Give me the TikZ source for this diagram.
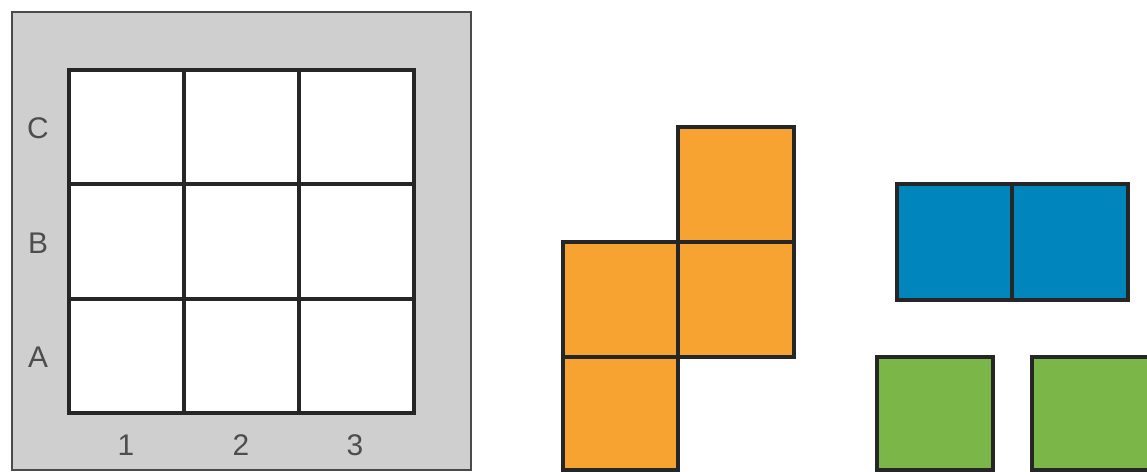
\documentclass[tikz,border=0pt]{standalone}
\usepackage{xcolor}
\usepackage{tikz}
\usepackage{fontspec}
\setmainfont{Liberation Sans}
\definecolor{boardgray}{HTML}{CFCFCF}
\definecolor{framegray}{HTML}{4A4A4A}
\definecolor{inkdark}{HTML}{262626}
\definecolor{labelgray}{HTML}{4D4D4D}
\definecolor{tileorange}{HTML}{F7A331}
\definecolor{tileblue}{HTML}{0085BD}
\definecolor{tilegreen}{HTML}{7AB648}

\tikzset{
  gridline/.style={inkdark,line width=2.2pt,line cap=rect},
  tile/.style={draw=inkdark,line width=2.2pt,line join=miter},
  boardlabel/.style={text=labelgray,font=\fontsize{17}{20}\selectfont,inner sep=0pt}
}

\begin{document}
\begin{tikzpicture}[x=0.02cm,y=-0.02cm]
  \useasboundingbox (0,0) rectangle (1147,472);
  % board
  \filldraw[fill=boardgray,draw=framegray,line width=0.8pt] (12,12) rectangle (471,470);
  \fill[white] (69,70) rectangle (414,413);
  \foreach \i in {0,...,3} {
    \draw[gridline] (69+\i*115,70) -- (69+\i*115,413);
    \draw[gridline] (69,70+\i*114.33) -- (414,70+\i*114.33);
  }
  \node[boardlabel] (rowC) at (38,128) {C};
  \node[boardlabel] (rowB) at (38,243) {B};
  \node[boardlabel] (rowA) at (38,357) {A};
  \node[boardlabel] (col1) at (126,445) {1};
  \node[boardlabel] (col2) at (241,445) {2};
  \node[boardlabel] (col3) at (355,445) {3};
  % orange piece
  \filldraw[tile,fill=tileorange] (678,127) rectangle (794,242);
  \filldraw[tile,fill=tileorange] (563,242) rectangle (678,357);
  \filldraw[tile,fill=tileorange] (678,242) rectangle (794,357);
  \filldraw[tile,fill=tileorange] (563,357) rectangle (678,470);
  % blue piece
  \filldraw[tile,fill=tileblue] (897,184) rectangle (1012,300);
  \filldraw[tile,fill=tileblue] (1012,184) rectangle (1128,300);
  % green pieces
  \filldraw[tile,fill=tilegreen] (877,357) rectangle (993,470);
  \filldraw[tile,fill=tilegreen] (1032,357) rectangle (1150,470);
\end{tikzpicture}
\end{document}
